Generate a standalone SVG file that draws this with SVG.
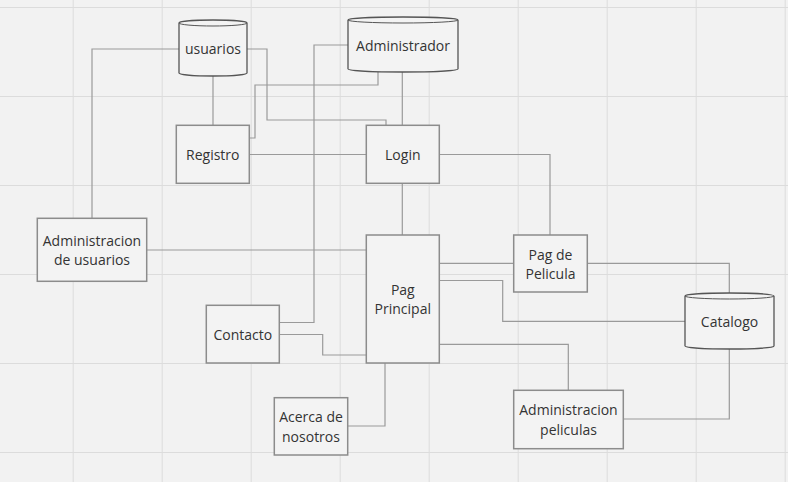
<svg xmlns="http://www.w3.org/2000/svg" width="788" height="482" viewBox="0 0 788 482">
<defs>
<pattern id="grid" x="-16.3" y="7" width="89" height="89" patternUnits="userSpaceOnUse">
<path d="M0.5,0 V89 M0,0.5 H89" fill="none" stroke="#dcdcdc" stroke-width="1"/>
</pattern>
</defs>
<style>
.bg{fill:#f2f2f2}
.box{fill:#f3f3f3;stroke:#8c8c8c;stroke-width:1.5}
.cyl{fill:#f3f3f3;stroke:#555;stroke-width:1.3}
.cyl2{fill:none;stroke:#555;stroke-width:1}
.edge{fill:none;stroke:#9a9a9a;stroke-width:1.2}
text{font-family:"Open Sans","Liberation Sans",sans-serif;font-size:14px;fill:#333;text-anchor:middle}
</style>
<rect class="bg" x="0" y="0" width="788" height="482"/>
<rect x="0" y="0" width="788" height="482" fill="url(#grid)"/>

<g id="connectors">
<path class="edge" d="M179,49 H92 V218"/>
<path class="edge" d="M213,76 V125"/>
<path class="edge" d="M247,49 H267 V120 H386 V125"/>
<path class="edge" d="M378,72 V85 H255 V138 H249"/>
<path class="edge" d="M348,45 H314 V322.5 H279"/>
<path class="edge" d="M279,334.5 H322.7 V355 H366"/>
<path class="edge" d="M147,250 H366"/>
<path class="edge" d="M249,154.5 H366"/>
<path class="edge" d="M402.3,72 V125"/>
<path class="edge" d="M402.3,183 V235"/>
<path class="edge" d="M439,154.5 H550 V235"/>
<path class="edge" d="M439,263.3 H514"/>
<path class="edge" d="M439,280.5 H502.7 V321.3 H685"/>
<path class="edge" d="M439,344.3 H568.3 V390"/>
<path class="edge" d="M587,263.3 H729.3 V293"/>
<path class="edge" d="M729.3,349 V419 H623"/>
<path class="edge" d="M385,363 V426 H348"/>
</g>

<g id="usuarios">
<path class="cyl" d="M179,23 a34,3 0 0,1 68,0 V73 a34,3 0 0,1 -68,0 Z"/>
<path class="cyl2" d="M179,23 a34,3 0 0,0 68,0"/>
<text x="213" y="54">usuarios</text>
</g>

<g id="administrador">
<path class="cyl" d="M348,20 a55,3 0 0,1 110,0 V69 a55,3 0 0,1 -110,0 Z"/>
<path class="cyl2" d="M348,20 a55,3 0 0,0 110,0"/>
<text x="403" y="51">Administrador</text>
</g>

<g id="registro">
<rect class="box" x="176.3" y="125.3" width="73" height="58"/>
<text x="212.8" y="160">Registro</text>
</g>

<g id="login">
<rect class="box" x="366.3" y="125.3" width="73" height="58"/>
<text x="402.8" y="160">Login</text>
</g>

<g id="adm-usuarios">
<rect class="box" x="37.3" y="218.3" width="109.4" height="63"/>
<text x="92" y="246">Administracion</text>
<text x="92" y="265">de usuarios</text>
</g>

<g id="pag-principal">
<rect class="box" x="366.3" y="235" width="73" height="128"/>
<text x="402.8" y="295">Pag</text>
<text x="402.8" y="314">Principal</text>
</g>

<g id="pag-pelicula">
<rect class="box" x="513.7" y="235" width="73.6" height="57"/>
<text x="550.5" y="260">Pag de</text>
<text x="550.5" y="279">Pelicula</text>
</g>

<g id="catalogo">
<path class="cyl" d="M685,296 a44.5,3 0 0,1 89,0 V346 a44.5,3 0 0,1 -89,0 Z"/>
<path class="cyl2" d="M685,296 a44.5,3 0 0,0 89,0"/>
<text x="729.5" y="327">Catalogo</text>
</g>

<g id="contacto">
<rect class="box" x="206.3" y="305.3" width="73" height="57.7"/>
<text x="242.8" y="340">Contacto</text>
</g>

<g id="acerca">
<rect class="box" x="274.3" y="397.7" width="73.4" height="57.3"/>
<text x="311" y="422">Acerca de</text>
<text x="311" y="442">nosotros</text>
</g>

<g id="adm-peliculas">
<rect class="box" x="513.7" y="390.3" width="109.6" height="58.4"/>
<text x="568.5" y="415">Administracion</text>
<text x="568.5" y="435">peliculas</text>
</g>
</svg>
